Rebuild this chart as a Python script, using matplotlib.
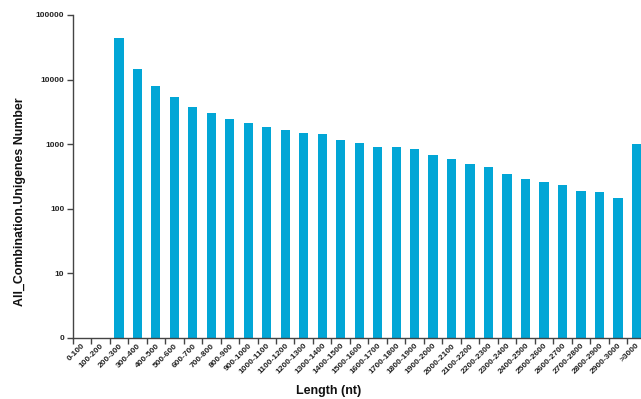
import numpy as np
import matplotlib
matplotlib.use('Agg')
import matplotlib.pyplot as plt
from matplotlib import transforms

# length bins (nt) and unigene counts per bin
lengths = ['0-100', '100-200', '200-300', '300-400', '400-500', '500-600',
           '600-700', '700-800', '800-900', '900-1000', '1000-1100',
           '1100-1200', '1200-1300', '1300-1400', '1400-1500', '1500-1600',
           '1600-1700', '1700-1800', '1800-1900', '1900-2000', '2000-2100',
           '2100-2200', '2200-2300', '2300-2400', '2400-2500', '2500-2600',
           '2600-2700', '2700-2800', '2800-2900', '2900-3000', '>3000']
counts = [0, 0, 44600, 14400, 7960, 5310, 3810, 3000, 2455, 2100, 1825,
          1640, 1505, 1420, 1148, 1055, 915, 895, 851, 687, 583, 499, 438,
          349, 286, 257, 236, 187, 180, 146, 1007]

y_ticks = [1, 10, 100, 1000, 10000, 100000]
y_labels = ['0', '10', '100', '1000', '10000', '100000']

plt.rcParams['font.family'] = ['Liberation Sans', 'DejaVu Sans']
plt.rcParams['font.weight'] = 'bold'

fig = plt.figure(figsize=(6.41, 3.99), dpi=100)
ax = fig.add_axes([72.7 / 641, 1 - 338 / 399, (641 - 72.7) / 641, (338 - 15) / 399])

x = np.arange(len(lengths))
vals = np.array(counts, dtype=float)
vals[vals <= 0] = np.nan
ax.bar(x, vals, width=0.5, color='#02a6d6', bottom=1)

ax.set_yscale('log')
ax.set_ylim(1, 100000)
ax.set_xlim(-0.41, 30.25)
ax.set_yticks(y_ticks)
ax.set_yticklabels(y_labels, fontsize=6, fontweight='bold', color='#222222')
ax.minorticks_off()

# tick marks sit between the bins, labels under each bar
ax.set_xticks(x - 0.5, minor=True)
ax.tick_params(axis='x', which='minor', length=4, width=1, color='#444444')
ax.set_xticks(x)
ax.set_xticklabels(lengths, rotation=45, ha='right', rotation_mode='anchor',
                   fontsize=6, fontweight='bold', color='#222222')
shift = transforms.ScaledTranslation(8 / 100, 0, fig.dpi_scale_trans)
for lab in ax.get_xticklabels():
    lab.set_transform(lab.get_transform() + shift)
ax.tick_params(axis='x', which='major', length=0, pad=3)
ax.tick_params(axis='y', length=4, width=1, color='#444444', pad=2)

for side in ['top', 'right']:
    ax.spines[side].set_visible(False)
for side in ['left', 'bottom']:
    ax.spines[side].set_color('#444444')
    ax.spines[side].set_linewidth(1)

fig.text(329 / 641, 1 - 391 / 399, 'Length (nt)', ha='center', va='center',
         fontsize=9, fontweight='bold', color='#111111')
fig.text(20 / 641, 1 - 202 / 399, 'All_Combination.Unigenes Number',
         rotation=90, ha='center', va='center', fontsize=8.9, fontweight='bold',
         color='#111111')

fig.savefig('out.png', dpi=100)
